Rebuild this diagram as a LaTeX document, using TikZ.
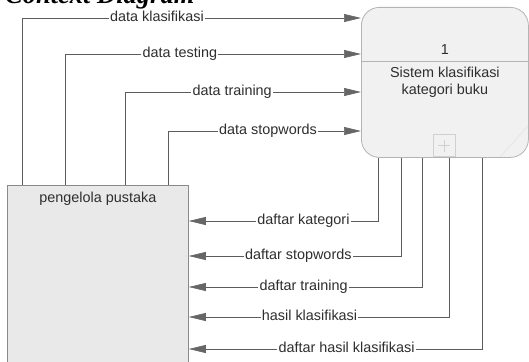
\documentclass[tikz,border=0pt]{standalone}
\usepackage{fontspec}
\setmainfont{Liberation Sans}
\newfontfamily\titlefont{Liberation Serif}
\usetikzlibrary{arrows.meta,calc}
\definecolor{linec}{HTML}{5C5C5C}
\definecolor{arrc}{HTML}{666666}
\definecolor{txt}{HTML}{2E2E2E}
\definecolor{boxc}{HTML}{B4B4B4}
\definecolor{entc}{HTML}{8A8A8A}
\definecolor{procfill}{HTML}{F1F1F1}
\definecolor{entfill}{HTML}{E9E9E9}
\definecolor{plusc}{HTML}{D0D0D0}
\begin{document}
\begin{tikzpicture}[x=1pt,y=-1pt,
  font=\fontsize{14.4}{17}\selectfont, text=txt,
  flow/.style={draw=linec, line width=0.6pt,
    -{Triangle[length=17pt,width=8pt,color=arrc,fill=arrc]}},
  lbl/.style={fill=white, inner sep=1.2pt, text height=10pt, text depth=3pt, text=txt}]
\useasboundingbox (0,0) rectangle (529,361);
\node[anchor=base west, inner sep=0pt, font=\titlefont\bfseries\itshape\fontsize{26.5}{26.5}\selectfont, text=black] (title) at (5,3.5) {Context Diagram};
% process
\node[draw=boxc, line width=0.8pt, fill=procfill, rounded corners=18pt, minimum width=167pt, minimum height=150pt, inner sep=0pt, anchor=north west] (proc) at (361,7) {};
\draw[boxc, line width=0.8pt] (proc.west |- 0,61) -- (proc.east |- 0,61);
\draw[plusc!60, line width=0.6pt] (500,157) -- (528,126);
\node (pnum) at (proc.north |- 0,50) {1};
\node[align=center] (pname) at (proc.north |- 0,82) {Sistem klasifikasi\\kategori buku};
\node[draw=plusc, line width=0.6pt, minimum size=22pt, inner sep=0pt, anchor=south west] (plus) at (433,157) {};
\draw[plusc, line width=0.8pt] ($(plus.center)+(-6,0)$) -- ($(plus.center)+(6,0)$);
\draw[plusc, line width=0.8pt] ($(plus.center)+(0,-6)$) -- ($(plus.center)+(0,6)$);
% entity
\node[draw=entc, line width=0.8pt, fill=entfill, minimum width=181pt, minimum height=200pt, inner sep=0pt, anchor=north west] (ent) at (7,185) {};
\node[anchor=base] (etext) at (ent.north |- 0,202) {pengelola pustaka};
% input flows
\draw[flow] ($(ent.north west)+(15,0)$) |- (proc.west |- 0,18) node[lbl,pos=0.699] {data klasifikasi};
\draw[flow] ($(ent.north west)+(58,0)$) |- (proc.west |- 0,54) node[lbl,pos=0.694] {data testing};
\draw[flow] ($(ent.north west)+(118,0)$) |- (proc.west |- 0,92) node[lbl,pos=0.727] {data training};
\draw[flow] ($(ent.north west)+(161,0)$) |- (proc.west |- 0,131) node[lbl,pos=0.759] {data stopwords};
% output flows
\draw[flow] ($(proc.south west)+(17,0)$) |- (ent.east |- 0,221) node[lbl,pos=0.697] {daftar kategori};
\draw[flow] ($(proc.south west)+(40,0)$) |- (ent.east |- 0,256) node[lbl,pos=0.742] {daftar stopwords};
\draw[flow] ($(proc.south west)+(61,0)$) |- (ent.east |- 0,287) node[lbl,pos=0.754] {daftar training};
\draw[flow] ($(proc.south west)+(88,0)$) |- (ent.east |- 0,317) node[lbl,pos=0.768] {hasil klasifikasi};
\draw[flow] ($(proc.south west)+(121,0)$) |- (ent.east |- 0,349) node[lbl,pos=0.731] {daftar hasil klasifikasi};
\end{tikzpicture}
\end{document}
